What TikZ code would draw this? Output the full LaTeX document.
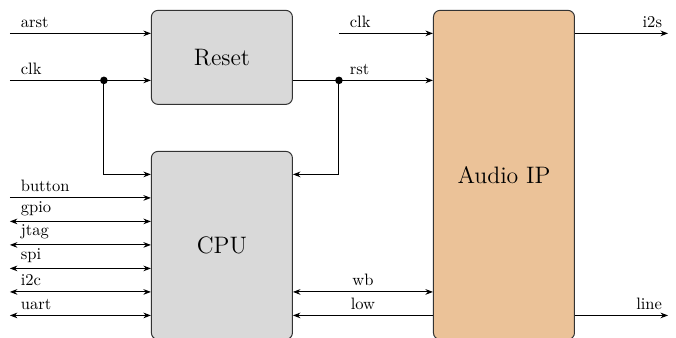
\documentclass[tikz,border=0pt]{standalone}
\usepackage{tikz}
\usetikzlibrary{arrows.meta, positioning}

\definecolor{audiofill}{RGB}{235,194,152}

\begin{document}
\begin{tikzpicture}[
            block/.style={
                    rectangle, rounded corners=4pt, draw=black!80, semithick,
                    minimum width=3cm, anchor=north west,
                    font=\Large, fill=gray!30
                },
            ipblock/.style={block, fill=audiofill},
            dot/.style={circle, fill=black, inner sep=0pt, minimum size=4.6pt},
            port/.style={above right, xshift=3pt},
            arrow/.style={-{Stealth[scale=0.8]}, semithick},
            biarrow/.style={{Stealth[scale=0.8]}-{Stealth[scale=0.8]}, semithick},
            wire/.style={semithick}
        ]
        \useasboundingbox (-0.21,0.21) rectangle (14.17,-6.96);

        \node[block, minimum height=2cm] (reset) at (3,0) {Reset};
        \node[block, minimum height=4cm] (cpu) at (3,-3) {CPU};
        \node[ipblock, minimum height=7cm] (audio) at (9,0) {Audio IP};

        \coordinate (arst) at (0,-0.5);
        \coordinate (clk) at (0,-1.5);
        \coordinate (button) at (0,-4);
        \coordinate (aclk) at (7,-0.5);
        \coordinate (i2s) at (14,-0.5);
        \coordinate (lineout) at (14,-6.5);

        \node[dot] (clkdot) at (2,-1.5) {};
        \node[dot] (rstdot) at (7,-1.5) {};

        % reset block
        \draw[arrow] (arst) node[port] {arst} -- (reset.west |- arst);
        \draw[wire] (clk) node[port] {clk} -- (clkdot.center);
        \draw[arrow] (clkdot.center) -- (reset.west |- clkdot);
        \draw[arrow] (clkdot.center) |- ([yshift=-0.5cm]cpu.north west);
        \draw[wire] (reset.east |- rstdot) -- (rstdot.center);
        \draw[arrow] (rstdot.center) node[port] {rst} -- (audio.west |- rstdot);
        \draw[arrow] (rstdot.center) |- ([yshift=-0.5cm]cpu.north east);

        % cpu ports
        \draw[arrow] (button) node[port] {button} -- (cpu.west |- button);
        \foreach \y/\name in {4.5/gpio, 5/jtag, 5.5/spi, 6/i2c, 6.5/uart}{
                \coordinate (\name) at (0,-\y);
                \draw[biarrow] (\name) node[port] {\name} -- (cpu.west |- \name);
            }

        % audio ip
        \draw[arrow] (aclk) node[port] {clk} -- (audio.west |- aclk);
        \draw[biarrow] (cpu.east |- i2c) -- node[above] {wb} (audio.west |- i2c);
        \draw[arrow] (audio.west |- uart) -- node[above] {low} (cpu.east |- uart);
        \draw[arrow] (audio.east |- i2s) -- (i2s) node[above left] {i2s};
        \draw[arrow] (audio.east |- lineout) -- (lineout) node[above left] {line};
    \end{tikzpicture}
\end{document}
